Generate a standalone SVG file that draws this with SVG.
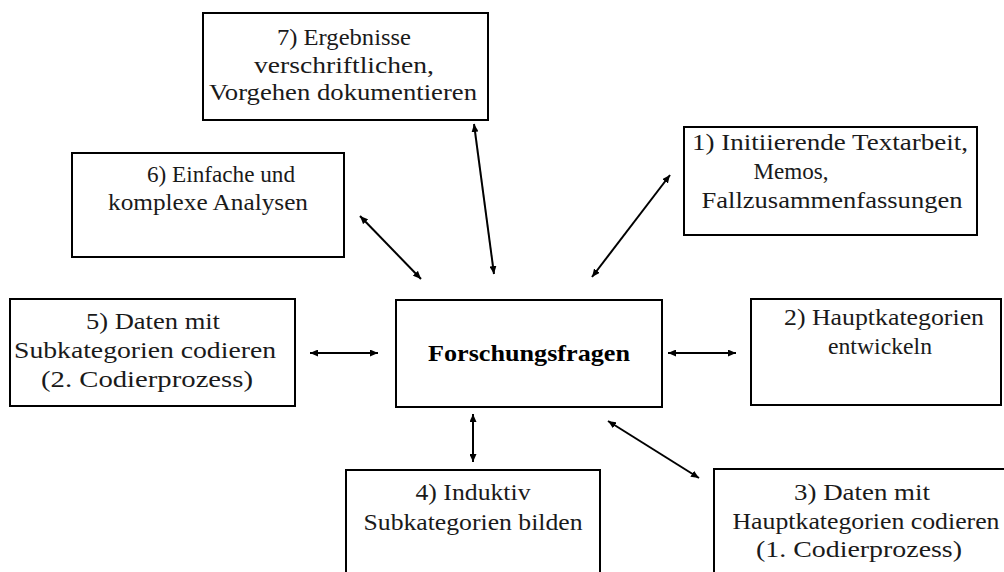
<svg xmlns="http://www.w3.org/2000/svg" width="1004" height="572" viewBox="0 0 1004 572">
<style>
.box{fill:#fff;stroke:#000;stroke-width:2}
.t{font-family:"Liberation Serif","Times New Roman",serif;font-size:24px;fill:#1a1a1a;text-anchor:middle}
.b{font-weight:bold;fill:#000}
.c{stroke:#000;stroke-width:2;fill:none;marker-start:url(#ah);marker-end:url(#ah)}
</style>
<defs>
<marker id="ah" markerUnits="userSpaceOnUse" markerWidth="8" markerHeight="7" refX="8" refY="3.5" orient="auto-start-reverse">
<path d="M0,0 L8,3.5 L0,7 z" fill="#000"/>
</marker>
</defs>
<rect width="1004" height="572" fill="#fff"/>
<g id="connectors">
<line class="c" x1="474" y1="124" x2="494" y2="274"/>
<line class="c" x1="360" y1="216" x2="421" y2="279"/>
<line class="c" x1="670" y1="175" x2="592" y2="277"/>
<line class="c" x1="310" y1="353" x2="378" y2="353"/>
<line class="c" x1="668" y1="353" x2="736" y2="353"/>
<line class="c" x1="473" y1="414" x2="473" y2="462"/>
<line class="c" x1="608" y1="421" x2="699" y2="478"/>
</g>
<g id="n7">
<rect class="box" x="203" y="13" width="285" height="107"/>
<text class="t" x="344" y="45" textLength="134" lengthAdjust="spacingAndGlyphs">7) Ergebnisse</text>
<text class="t" x="344" y="73" textLength="180" lengthAdjust="spacingAndGlyphs">verschriftlichen,</text>
<text class="t" x="343" y="100" textLength="268" lengthAdjust="spacingAndGlyphs">Vorgehen dokumentieren</text>
</g>
<g id="n6">
<rect class="box" x="72" y="153" width="272" height="104"/>
<text class="t" x="221" y="182" textLength="148" lengthAdjust="spacingAndGlyphs">6) Einfache und</text>
<text class="t" x="208" y="210" textLength="200" lengthAdjust="spacingAndGlyphs">komplexe Analysen</text>
</g>
<g id="n1">
<rect class="box" x="684" y="127" width="293" height="108"/>
<text class="t" x="830" y="150" textLength="276" lengthAdjust="spacingAndGlyphs">1) Initiierende Textarbeit,</text>
<text class="t" x="791" y="179" textLength="75" lengthAdjust="spacingAndGlyphs">Memos,</text>
<text class="t" x="832" y="208" textLength="261" lengthAdjust="spacingAndGlyphs">Fallzusammenfassungen</text>
</g>
<g id="n5">
<rect class="box" x="10" y="299" width="285" height="107"/>
<text class="t" x="153" y="329" textLength="134" lengthAdjust="spacingAndGlyphs">5) Daten mit</text>
<text class="t" x="145" y="358" textLength="262" lengthAdjust="spacingAndGlyphs">Subkategorien codieren</text>
<text class="t" x="147" y="387" textLength="212" lengthAdjust="spacingAndGlyphs">(2. Codierprozess)</text>
</g>
<g id="center">
<rect class="box" x="396" y="300" width="266" height="107"/>
<text class="t b" x="529" y="361" textLength="202" lengthAdjust="spacingAndGlyphs">Forschungsfragen</text>
</g>
<g id="n2">
<rect class="box" x="751" y="299" width="250" height="106"/>
<text class="t" x="884" y="325" textLength="200" lengthAdjust="spacingAndGlyphs">2) Hauptkategorien</text>
<text class="t" x="880" y="354" textLength="104" lengthAdjust="spacingAndGlyphs">entwickeln</text>
</g>
<g id="n4">
<rect class="box" x="346" y="470" width="254" height="110"/>
<text class="t" x="473" y="500" textLength="115" lengthAdjust="spacingAndGlyphs">4) Induktiv</text>
<text class="t" x="473" y="530" textLength="219" lengthAdjust="spacingAndGlyphs">Subkategorien bilden</text>
</g>
<g id="n3">
<rect class="box" x="714" y="469" width="298" height="111"/>
<text class="t" x="862" y="500" textLength="136" lengthAdjust="spacingAndGlyphs">3) Daten mit</text>
<text class="t" x="866" y="529" textLength="267" lengthAdjust="spacingAndGlyphs">Hauptkategorien codieren</text>
<text class="t" x="859" y="557" textLength="206" lengthAdjust="spacingAndGlyphs">(1. Codierprozess)</text>
</g>
</svg>
